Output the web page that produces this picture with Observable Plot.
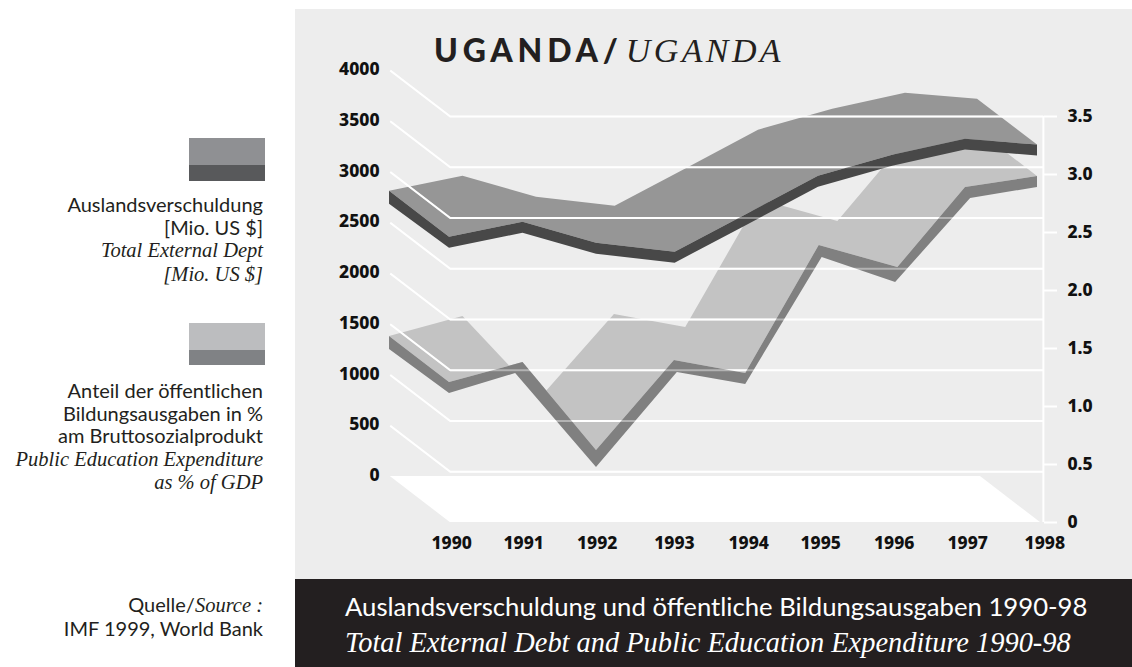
<!DOCTYPE html>
<html>
<head>
<meta charset="utf-8">
<script src="https://cdn.jsdelivr.net/npm/d3@7"></script>
<script src="https://cdn.jsdelivr.net/npm/@observablehq/plot@0.6"></script>
<style>
html,body{margin:0;padding:0;background:#fff;overflow:hidden;width:1132px;height:667px}
.abs{position:absolute;white-space:nowrap}
.panel{left:295px;top:9px;width:837px;height:570px;background:#ededed}
.foot{left:295px;top:579px;width:837px;height:88px;background:#231f20}
.side{right:869px;text-align:right;font:20px/22.6px Lato,sans-serif;color:#231f20}
.side i,.ser{font-family:"Liberation Serif",serif;font-style:italic}
.side i{font-size:20.5px}
.sw{left:189px;width:76px}
#chart{left:0;top:0}
</style>
</head>
<body>
<div class="abs panel"></div>
<div class="abs foot"></div>
<div class="abs" id="chart"></div>

<div class="abs" style="left:434px;top:32px;font:900 32px/36px Lato,sans-serif;letter-spacing:4.8px;color:#231f20">UGANDA/<span style="font:italic 400 34px/36px 'Liberation Serif',serif;letter-spacing:3.4px;margin-left:3px">UGANDA</span></div>

<div class="abs sw" style="top:138px;height:27px;background:#8f9093"></div>
<div class="abs sw" style="top:165px;height:16px;background:#58595b"></div>
<div class="abs side" style="top:193px">Auslandsverschuldung<br>[Mio. US $]<br><i>Total External Dept</i><br><i>[Mio. US $]</i></div>

<div class="abs sw" style="top:323px;height:27px;background:#bcbdbf"></div>
<div class="abs sw" style="top:350px;height:15px;background:#808285"></div>
<div class="abs side" style="top:379px">Anteil der öffentlichen<br>Bildungsausgaben in %<br>am Bruttosozialprodukt<br><i>Public Education Expenditure</i><br><i>as % of GDP</i></div>

<div class="abs side" style="top:593px">Quelle/<i>Source :</i><br>IMF 1999, World Bank</div>

<div class="abs" style="left:345px;top:590px;font:25.7px/32px Lato,sans-serif;color:#fff">Auslandsverschuldung und öffentliche Bildungsausgaben 1990-98</div>
<div class="abs ser" style="left:345px;top:627px;font-size:28.4px;line-height:32px;color:#fff">Total External Debt and Public Education Expenditure 1990-98</div>

<script>
// Years and positions
const years = [1990,1991,1992,1993,1994,1995,1996,1997,1998];
const yearLabelAt = [1990.03,1991.01,1992.01,1993.06,1994.07,1995.05,1996.05,1997.05,1998.1];

// External debt, Mio. US $ (left axis), top of the ribbon's front face
const debtAt  = [1990,1991,1992,1993.07,1994.05,1995.02,1996.03,1997.02,1998];
const debtTop = [2810,2958,2751,2663,3037,3412,3619,3777,3718];
const debtThickness = 108;

// Public education expenditure, % of GDP (right axis): top and foot of the front face
const eduAt     = [1990,1991,1992,1993.06,1994.03,1995.03,1996.1,1997.02,1998];
const eduFootAt = [1990,1990.9,1992,1993.1,1994.03,1995.07,1996.07,1997.09,1998];
const eduTop  = [1.207,1.379,0.621,1.397,1.284,2.388,2.198,2.888,2.983];
const eduFoot = [1.112,1.284,0.474,1.293,1.190,2.284,2.069,2.793,2.888];
// Rear edge of the education ribbon, where it differs at the 1992 dip
const eduRearAt  = [1990,1991,1992.05,1993.06,1994.03,1995.03,1996.1,1997.02,1998];
const eduRearTop = [1.207,1.379,0.673,1.397,1.284,2.388,2.198,2.888,2.983];

// Axis ticks
const leftTicks  = [0,500,1000,1500,2000,2500,3000,3500,4000];
const gridLevels = [500,1000,1500,2000,2500,3000,3500,4000];
const rightTicks = [0,0.5,1,1.5,2,2.5,3,3.5];

// Both axes share the front plane: 4000 on the left lines up with 3.5 on the right
const pctToY = 4000/3.5;
// Depth of the 3-D box, in scale units
const depthX = 0.816, depthY = 453;
const xStart = 1990.01, xEnd = 1998.08, xFloorEnd = 1998.04;

const edu = eduTop.map(v=>v*pctToY), eduLow = eduFoot.map(v=>v*pctToY), eduRear = eduRearTop.map(v=>v*pctToY);

const surface = (at, v, rearAt, rear) => at.map((x,i)=>({bx:rearAt[i]-depthX, by:rear[i]+depthY, fx:x, fy:v[i]}));
const band = (at, footAt, top, low) => [
  {x1:at[0]-depthX, x2:at[0]-depthX, y1:top[0]+depthY, y2:low[0]+depthY-20},
  ...at.map((x,i)=>({x1:x, x2:footAt[i], y1:top[i], y2:low[i]}))
];
const grid = gridLevels.flatMap(v=>[
  {k:v, x:xStart-depthX, y:v+depthY},
  {k:v, x:xStart, y:v},
  {k:v, x:xEnd, y:v}
]);
const floor = [
  {x1:xStart-depthX, x2:xStart, y1:depthY, y2:0},
  {x1:xFloorEnd-depthX, x2:xFloorEnd, y1:depthY, y2:0}
];
const debtLow = debtTop.map(v=>v-debtThickness);
const lineAttrs = {x:"x", y:"y", z:"k", stroke:"#fff", strokeWidth:2, strokeLinejoin:"miter", strokeLinecap:"butt"};
const quad = {x1:"bx", y1:"by", x2:"fx", y2:"fy"};
const edge = {x1:"x1", y1:"y1", x2:"x2", y2:"y2"};

const chart = Plot.plot({
  width:1132, height:579,
  marginLeft:382, marginRight:89, marginTop:60, marginBottom:49,
  x:{type:"linear", domain:[1990,1998], range:[449,1037], axis:null},
  y:{type:"linear", domain:[0,4000], range:[522,116], axis:null},
  style:{background:"transparent", fontFamily:"'Noto Sans',sans-serif", fontSize:"17.5px", fontWeight:800, color:"#111"},
  marks:[
    Plot.area(floor, {...edge, fill:"#fff"}),
    Plot.area(surface(eduAt, edu, eduRearAt, eduRear), {...quad, fill:"#c3c3c3"}),
    Plot.area(surface(debtAt, debtTop, debtAt, debtTop), {...quad, fill:"#969696"}),
    Plot.ruleX([xEnd], {y1:0, y2:4000, stroke:"#fff", strokeWidth:2}),
    Plot.line(grid, lineAttrs),
    Plot.area(band(eduAt, eduFootAt, edu, eduLow), {...edge, fill:"#808080"}),
    Plot.area(band(debtAt, debtAt, debtTop, debtLow), {...edge, fill:"#484848"}),
    Plot.line(grid, {...lineAttrs, strokeOpacity:0.4}),
    Plot.axisY(leftTicks, {anchor:"left", tickSize:0, tickPadding:3, dy:-47, tickFormat:d=>String(d)}),
    Plot.axisY(rightTicks.map(v=>v*pctToY), {anchor:"right", tickSize:13, tickPadding:11, stroke:"#fff", strokeWidth:2, fill:"#111",
      tickFormat:d=>{const v=d/pctToY; return v<0.01?"0":v.toFixed(1);}}),
    Plot.axisX(yearLabelAt, {anchor:"bottom", tickSize:0, tickPadding:6, tickFormat:d=>String(Math.floor(d))})
  ]
});
document.getElementById("chart").appendChild(chart);
</script>
</body>
</html>
